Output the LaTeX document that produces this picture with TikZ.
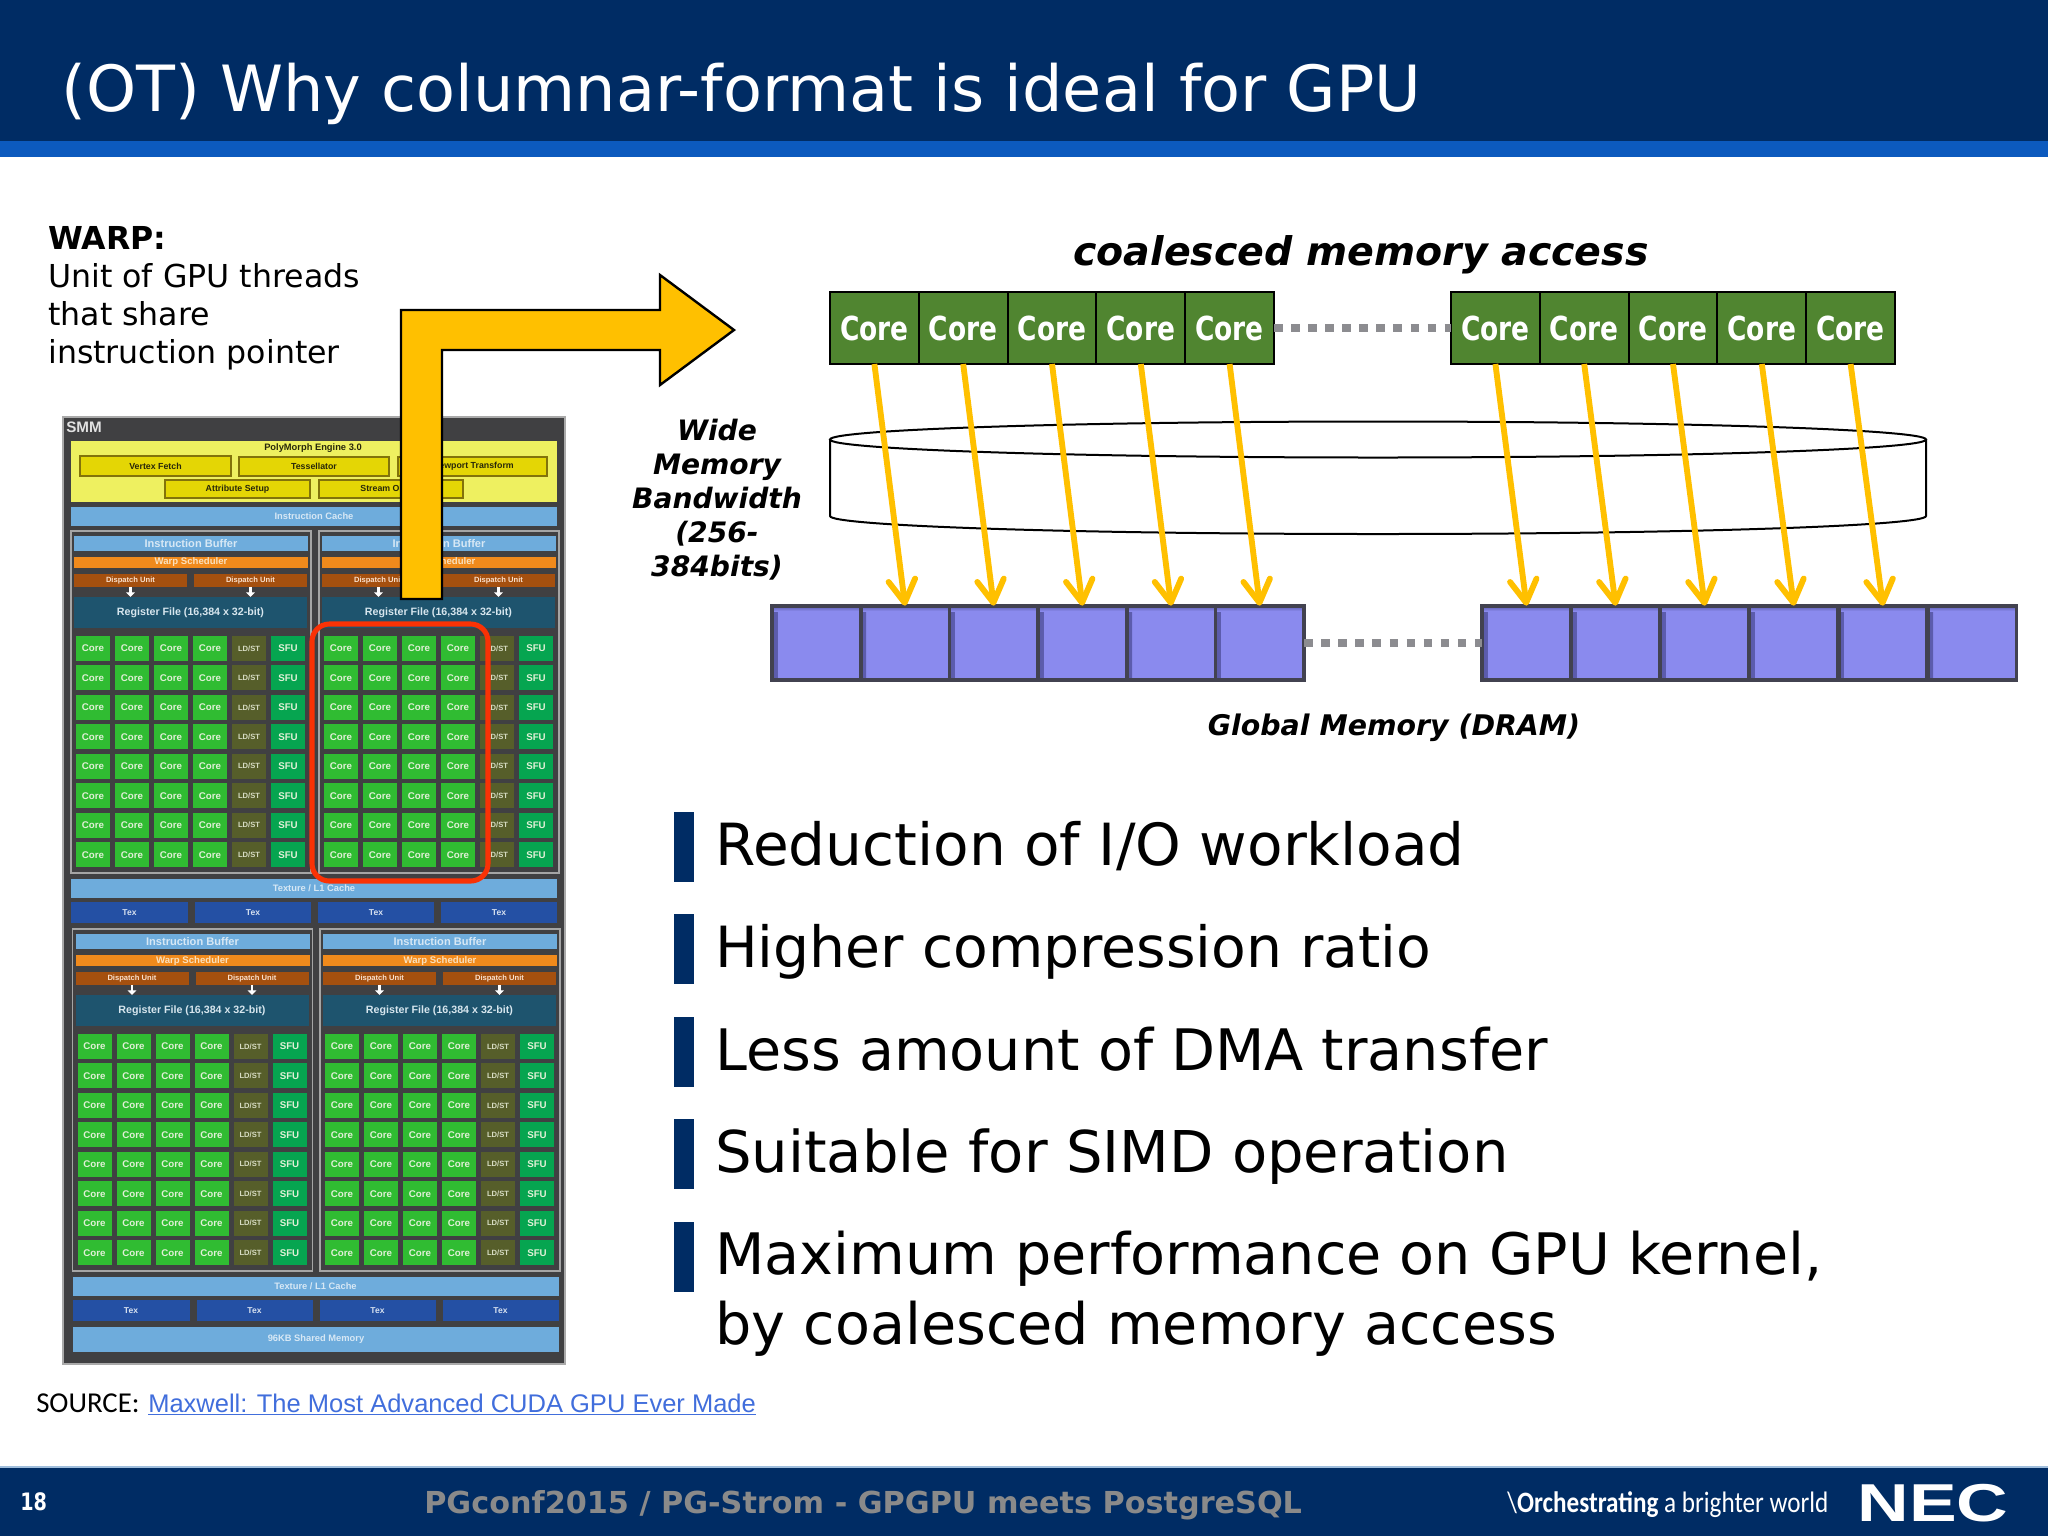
\documentclass[tikz,border=0pt]{standalone}
\usepackage{fontspec}
\setmainfont{DejaVu Sans}
\newfontfamily\diefont{Liberation Sans}
\newfontfamily\corefont[FakeStretch=0.8]{DejaVu Sans}
\newfontfamily\notefont{Carlito}
\newfontfamily\tagfont[FakeStretch=0.85]{Carlito}
\usetikzlibrary{arrows.meta,calc}
\newcommand{\sz}[2]{\fontsize{#1}{#2}\selectfont}
\tikzset{
  diecell/.style={inner sep=0pt,outer sep=0pt,font=\diefont\bfseries\sz{7.3}{8},text={rgb, 255:red, 225; green, 240; blue, 215 }},
  yellowbox/.style={diecell,draw={rgb, 255:red, 130; green, 115; blue, 10 },line width=0.9pt,fill={rgb, 255:red, 228; green, 214; blue, 5 },font=\diefont\bfseries\sz{6.6}{7},text={rgb, 255:red, 40; green, 40; blue, 10 }},
  cachebox/.style={diecell,fill={rgb, 255:red, 110; green, 172; blue, 220 },font=\diefont\bfseries\sz{7}{8},text={rgb, 255:red, 215; green, 232; blue, 245 }},
  bufferbox/.style={cachebox,font=\diefont\bfseries\sz{8.3}{9}},
  warpbox/.style={diecell,fill={rgb, 255:red, 240; green, 138; blue, 28 },font=\diefont\bfseries\sz{7.2}{8},text={rgb, 255:red, 250; green, 225; blue, 190 }},
  dispatchbox/.style={diecell,fill={rgb, 255:red, 165; green, 80; blue, 15 },font=\diefont\bfseries\sz{5.7}{6},text={rgb, 255:red, 250; green, 225; blue, 205 }},
  regbox/.style={diecell,fill={rgb, 255:red, 30; green, 84; blue, 110 },font=\diefont\bfseries\sz{8}{9},text={rgb, 255:red, 215; green, 230; blue, 238 }},
  corebox/.style={diecell,fill={rgb, 255:red, 48; green, 188; blue, 50 }},
  ldstbox/.style={diecell,fill={rgb, 255:red, 86; green, 94; blue, 42 },font=\diefont\bfseries\sz{5.7}{6},text={rgb, 255:red, 215; green, 220; blue, 195 }},
  sfubox/.style={diecell,fill={rgb, 255:red, 6; green, 165; blue, 80 }},
  texbox/.style={diecell,fill={rgb, 255:red, 36; green, 80; blue, 164 },font=\diefont\bfseries\sz{6.4}{7},text={rgb, 255:red, 215; green, 225; blue, 240 }},
  diearrow/.style={draw=white,line width=1.6pt,-{Triangle[length=3.5pt,width=6.5pt]}},
  corecell/.style={draw=black,line width=1.5pt,fill={rgb, 255:red, 80; green, 133; blue, 48 },inner sep=0pt,outer sep=0pt,minimum width=66.6pt,minimum height=54pt,text=white,font=\corefont\bfseries\sz{24.8}{26}},
  memcell/.style={draw={rgb, 255:red, 66; green, 66; blue, 80 },line width=2.8pt,fill={rgb, 255:red, 138; green, 138; blue, 238 },inner sep=0pt,outer sep=0pt,minimum width=66.5pt,minimum height=56pt,
    path picture={\shade[left color={rgb, 255:red, 90; green, 90; blue, 170 },right color={rgb, 255:red, 138; green, 138; blue, 238 }] (path picture bounding box.north west) rectangle ([xshift=4pt]path picture bounding box.south west);
      \shade[top color={rgb, 255:red, 90; green, 90; blue, 170 },bottom color={rgb, 255:red, 138; green, 138; blue, 238 }] (path picture bounding box.north west) rectangle ([yshift=-4pt]path picture bounding box.north east);}},
  dotline/.style={draw={rgb, 255:red, 140; green, 140; blue, 144 },line width=5.6pt,dash pattern=on 6.4pt off 6.4pt},
  memarrow/.style={draw={rgb, 255:red, 255; green, 192; blue, 0 },line width=4.4pt,-{Straight Barb[length=17pt,width=20pt,line width=4.4pt,round]}},
  bulletbar/.style={fill={rgb, 255:red, 0; green, 44; blue, 100 },inner sep=0pt,outer sep=0pt,minimum width=15pt,minimum height=52pt},
  bullettext/.style={anchor=base west,inner sep=0pt,align=left}
}
% one of the four shader halves of the die
\newcommand{\diebox}[7]{\node[#6,minimum width={((#4)-(#2))*0.75pt},minimum height={((#5)-(#3))*0.75pt}] (#1) at ({((#2)+(#4))/2},{((#3)+(#5))/2}) {#7};}
\newcommand{\smmhalf}[3]{%
  \draw[draw={rgb, 255:red, 165; green, 165; blue, 165 },line width=1.2pt] (#2,#3) rectangle ({#2+240},{#3+342});
  \diebox{#1ib}{#2+3}{#3+5}{#2+237}{#3+20}{bufferbox}{Instruction Buffer}
  \diebox{#1ws}{#2+3}{#3+26}{#2+237}{#3+37}{warpbox}{Warp Scheduler}
  \diebox{#1da}{#2+3}{#3+43}{#2+116}{#3+56}{dispatchbox}{Dispatch Unit}
  \diebox{#1db}{#2+123}{#3+43}{#2+236}{#3+56}{dispatchbox}{Dispatch Unit}
  \diebox{#1rf}{#2+3}{#3+66}{#2+236}{#3+97}{regbox}{Register File (16,384 x 32-bit)}
  \draw[diearrow] (#1da.south) -- (#1da.south |- #1rf.north);
  \draw[diearrow] (#1db.south) -- (#1db.south |- #1rf.north);
  \foreach \r in {0,...,7} {
    \foreach \c/\s/\t in {0/corebox/Core,1/corebox/Core,2/corebox/Core,3/corebox/Core,4/ldstbox/LD\slash ST,5/sfubox/SFU} {
      \diebox{#1c\r\c}{#2+5+39*\c}{#3+105+29.45*\r}{#2+39+39*\c}{#3+130+29.45*\r}{\s}{\t}
    }
  }
}
\newcommand{\smmcache}[3]{%
  \diebox{#1tc}{#2+71}{#3+879}{#2+557}{#3+898}{cachebox}{Texture / L1 Cache}
  \diebox{#1ta}{#2+71}{#3+902}{#2+188}{#3+923}{texbox}{Tex}
  \diebox{#1tb}{#2+195}{#3+902}{#2+311}{#3+923}{texbox}{Tex}
  \diebox{#1tc2}{#2+318}{#3+902}{#2+434}{#3+923}{texbox}{Tex}
  \diebox{#1td}{#2+441}{#3+902}{#2+557}{#3+923}{texbox}{Tex}
}

\begin{document}
\begin{tikzpicture}[x=0.75pt,y=0.75pt,yscale=-1,xscale=1]
\useasboundingbox (0,0) rectangle (2048,1536);
\fill[white] (0,0) rectangle (2048,1536);

%header and footer bars
\fill[fill={rgb, 255:red, 0; green, 44; blue, 100 }] (0,0) rectangle (2048,141);
\fill[fill={rgb, 255:red, 12; green, 90; blue, 190 }] (0,141) rectangle (2048,157);
\fill[fill={rgb, 255:red, 0; green, 44; blue, 100 }] (0,1467) rectangle (2048,1536);
\draw[draw={rgb, 255:red, 160; green, 190; blue, 220 },line width=0.8pt] (0,1467) -- (2048,1467);

% Text Node
\draw (61,111) node (title) [anchor=base west][inner sep=0pt][text=white][font=\sz{47.8}{50}] {(OT) Why columnar-format is ideal for GPU};
% Text Node
\draw (48,363) node (warp) [anchor=base west][inner sep=0pt][align=left][font=\sz{23.7}{28.5}] {\textbf{WARP:}\\Unit of GPU threads\\that share\\instruction pointer};

%die outline
\draw[fill={rgb, 255:red, 64; green, 64; blue, 66 },draw={rgb, 255:red, 170; green, 170; blue, 170 },line width=1.2pt] (63,417) rectangle (565,1364);
\draw (66,427) node (smm) [anchor=west][inner sep=0pt][text={rgb, 255:red, 225; green, 225; blue, 225 }][font=\diefont\bfseries\sz{11.4}{12}] {SMM};
\diebox{poly}{71}{441}{557}{502}{diecell,fill={rgb, 255:red, 238; green, 240; blue, 96 }}{}
\draw (313,448) node (polytext) [inner sep=0pt][text={rgb, 255:red, 40; green, 40; blue, 10 }][font=\diefont\bfseries\sz{7}{8}] {PolyMorph Engine 3.0};
\diebox{vertex}{80}{456}{231}{476}{yellowbox}{Vertex Fetch}
\diebox{tess}{239}{457}{389}{476}{yellowbox}{Tessellator}
\diebox{view}{398}{457}{547}{476}{yellowbox}{Viewport Transform}
\diebox{attr}{165}{480}{310}{498}{yellowbox}{Attribute Setup}
\diebox{stream}{319}{480}{463}{498}{yellowbox}{Stream Output}
\diebox{icache}{71}{507}{557}{526}{cachebox}{Instruction Cache}
\smmhalf{p}{71}{531}
\smmhalf{q}{319}{531}
\smmcache{u}{0}{0}
\smmhalf{r}{72.5}{929}
\smmhalf{s}{320}{929}
\smmcache{v}{1.5}{398}
\diebox{shared}{73}{1327}{559}{1352}{cachebox}{96KB Shared Memory}

%Red selection
\draw[draw={rgb, 255:red, 250; green, 50; blue, 5 },line width=3.8pt,rounded corners=13pt] (312,624) rectangle (488,881);

%Shape: Polygon
\draw[fill={rgb, 255:red, 255; green, 192; blue, 0 },draw=black,line width=1.8pt,miter limit=10] (401,599) -- (401,310) -- (660,310) -- (660,275) -- (734,330) -- (660,385) -- (660,350) -- (442,350) -- (442,599) -- cycle;

% Text Node
\draw (1361,265) node (coal) [anchor=base][inner sep=0pt][font=\bfseries\itshape\sz{29.6}{30}] {coalesced memory access};

%memory band
\draw[black,line width=1.5pt] (1378,439.5) ellipse [x radius=548,y radius=18];
\draw[black,line width=1.5pt] (830,439.5) -- (830,516) arc [start angle=180,end angle=0,x radius=548,y radius=18] -- (1926,439.5);
% Text Node
\draw (717,500) node (wide) [inner sep=0pt][align=center][font=\bfseries\itshape\sz{21.1}{25.5}] {Wide\\Memory\\Bandwidth\\(256-\\384bits)};

%core rows and memory cells
\foreach \i in {1,...,5} {
  \node[corecell] (a\i) at ({830+88.8*(\i-0.5)},328) {Core};
  \node[corecell] (b\i) at ({1451+88.8*(\i-0.5)},328) {Core};
}
\foreach \i in {1,...,6} {
  \node[memcell] (m\i) at ({772+88.7*(\i-0.5)},643) {};
  \node[memcell] (n\i) at ({1482+89.1*(\i-0.5)},643) {};
}
\draw[dotline] (a5.east) -- (b1.west);
\draw[dotline] (m6.east) -- (n1.west);
\foreach \i/\j in {1/2,2/3,3/4,4/5,5/6} {
  \draw[memarrow] (a\i.south) -- (m\j.north);
  \draw[memarrow] (b\i.south) -- (n\i.north);
}
% Text Node
\draw (1394,735) node (dram) [anchor=base][inner sep=0pt][font=\bfseries\itshape\sz{21.3}{24}] {Global Memory (DRAM)};

%bullet bars
\node[bulletbar] (bar1) at (684,847) {};
\node[bulletbar] (bar2) at (684,949) {};
\node[bulletbar] (bar3) at (684,1052) {};
\node[bulletbar] (bar4) at (684,1154) {};
\node[bulletbar] (bar5) at (684,1257) {};
% Text Node
\draw (715,865) node (line1) [bullettext][font=\sz{43.6}{52}] {Reduction of I/O workload};
\draw (715,967) node (line2) [bullettext][font=\sz{42.6}{52}] {Higher compression ratio};
\draw (715,1070) node (line3) [bullettext][font=\sz{42.9}{52}] {Less amount of DMA transfer};
\draw (715,1172) node (line4) [bullettext][font=\sz{43.2}{52}] {Suitable for SIMD operation};
\draw (715,1344) node (line5) [bullettext][font=\sz{42.9}{52}] {Maximum performance on GPU kernel,\\by coalesced memory access};

% Text Node
\draw (36,1412) node (source) [anchor=base west][inner sep=0pt][font=\notefont\sz{21.6}{22}] {SOURCE:};
\draw (148,1412) node (link) [anchor=base west][inner sep=0pt][text={rgb, 255:red, 65; green, 110; blue, 220 }][font=\diefont\sz{19.13}{22}] {\underline{Maxwell: The Most Advanced CUDA GPU Ever Made}};

%footer texts
\draw (20,1510) node (page) [anchor=base west][inner sep=0pt][text=white][font=\corefont\bfseries\sz{18}{20}] {18};
\draw (424,1513) node (foot) [anchor=base west][inner sep=0pt][text={rgb, 255:red, 138; green, 138; blue, 138 }][font=\bfseries\sz{22.7}{26}] {PGconf2015 / PG-Strom - GPGPU meets PostgreSQL};
\draw (1507,1512) node (tag) [anchor=base west][inner sep=0pt][text=white][font=\tagfont\sz{22.2}{24}] {\textbackslash\textbf{Orchestrating} a brighter world};
\draw (1933,1521) node (nec) [anchor=base][inner sep=0pt][xscale=1.34][text=white][font=\diefont\bfseries\sz{40}{40}] {NEC};
\end{tikzpicture}
\end{document}
